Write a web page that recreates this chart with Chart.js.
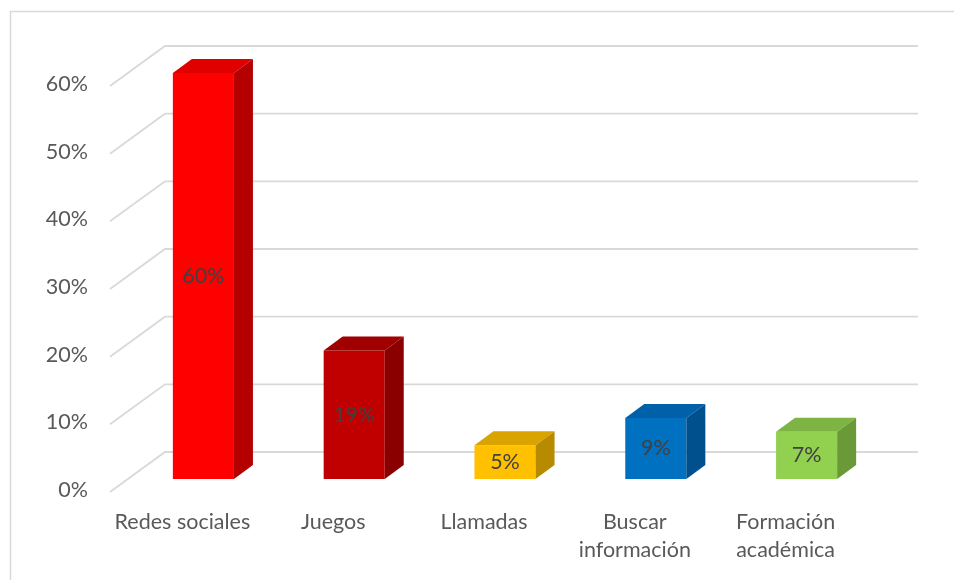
<!DOCTYPE html>
<html>
<head>
<meta charset="utf-8">
<script src="https://cdn.jsdelivr.net/npm/chart.js@4"></script>
<style>
  html, body { margin: 0; padding: 0; background: #fff; }
  #uso-chart { display: block; }
</style>
</head>
<body>
<canvas id="uso-chart" width="954" height="580"></canvas>
<script>
// categorías y porcentajes
var categorias = ['Redes sociales', 'Juegos', 'Llamadas', ['Buscar', 'información'], ['Formación', 'académica']];
var porcentajes = [60, 19, 5, 9, 7];
var ticksEje = [0, 10, 20, 30, 40, 50, 60];

// colores de cara frontal, superior y lateral
var coloresFrente = ['#ff0000', '#c00000', '#ffc000', '#0070c0', '#92d050'];
var coloresArriba = ['#e00000', '#a00000', '#d9a300', '#0060a8', '#7db443'];
var coloresLado = ['#b50000', '#8a0000', '#b88a00', '#00508e', '#6a9a38'];

var FUENTE = 'Lato, "Open Sans", sans-serif';
var TAM = 21.5;
var PROF_X = 19, PROF_Y = -14;

// fondo + marco
var marco = {
  id: 'marco',
  beforeDraw: function (chart) {
    var ctx = chart.ctx;
    ctx.save();
    ctx.fillStyle = '#fff';
    ctx.fillRect(0, 0, chart.width, chart.height);
    ctx.strokeStyle = '#d9d9d9';
    ctx.lineWidth = 1.5;
    ctx.strokeRect(10.5, 11.5, chart.width + 20, chart.height + 20);
    ctx.restore();
  }
};

// pared del fondo y lineas inclinadas de la izquierda
var rejilla3d = {
  id: 'rejilla3d',
  beforeDatasetsDraw: function (chart) {
    var ctx = chart.ctx, y = chart.scales.y, area = chart.chartArea;
    var xFrente = area.left - 18, xFondo = area.left + 37, xFin = area.right + 36;
    ctx.save();
    ctx.strokeStyle = '#d9d9d9';
    ctx.lineWidth = 1.8;
    ticksEje.forEach(function (v) {
      var py = y.getPixelForValue(v);
      ctx.beginPath();
      ctx.moveTo(xFrente, py + 13);
      ctx.lineTo(xFondo, py - 27);
      ctx.lineTo(xFin, py - 27);
      ctx.stroke();
    });
    ctx.restore();
  }
};

// caras superior y lateral de cada barra, y su etiqueta
var barras3d = {
  id: 'barras3d',
  afterDatasetsDraw: function (chart) {
    var ctx = chart.ctx;
    var meta = chart.getDatasetMeta(0);
    ctx.save();
    meta.data.forEach(function (bar, i) {
      var p = bar.getProps(['x', 'y', 'base', 'width'], true);
      var l = p.x - p.width / 2, r = p.x + p.width / 2;
      ctx.fillStyle = coloresArriba[i];
      ctx.beginPath();
      ctx.moveTo(l, p.y);
      ctx.lineTo(l + PROF_X, p.y + PROF_Y);
      ctx.lineTo(r + PROF_X, p.y + PROF_Y);
      ctx.lineTo(r, p.y);
      ctx.closePath();
      ctx.fill();
      ctx.fillStyle = coloresLado[i];
      ctx.beginPath();
      ctx.moveTo(r, p.y);
      ctx.lineTo(r + PROF_X, p.y + PROF_Y);
      ctx.lineTo(r + PROF_X, p.base + PROF_Y);
      ctx.lineTo(r, p.base);
      ctx.closePath();
      ctx.fill();

      ctx.fillStyle = '#404040';
      ctx.font = TAM + 'px ' + FUENTE;
      ctx.textAlign = 'center';
      ctx.textBaseline = 'middle';
      ctx.fillText(porcentajes[i] + '%', p.x, (p.y + p.base) / 2);
    });
    ctx.restore();
  }
};

new Chart(document.getElementById('uso-chart'), {
  type: 'bar',
  data: {
    labels: categorias,
    datasets: [{
      data: porcentajes,
      backgroundColor: coloresFrente,
      borderWidth: 0,
      barPercentage: 1,
      categoryPercentage: 0.405
    }]
  },
  options: {
    responsive: false,
    devicePixelRatio: 1,
    animation: false,
    layout: { padding: { left: 10, top: 73, right: 72, bottom: 0 } },
    plugins: { legend: { display: false }, tooltip: { enabled: false } },
    scales: {
      x: {
        grid: { display: false, drawTicks: false },
        border: { display: false },
        afterFit: function (s) { s.height = 101; },
        ticks: {
          color: '#595959',
          font: { family: FUENTE, size: TAM, lineHeight: 1.26 },
          padding: 30,
          labelOffset: -21,
          maxRotation: 0,
          autoSkip: false
        }
      },
      y: {
        min: 0,
        max: 60,
        grid: { display: false, drawTicks: false },
        border: { display: false },
        afterFit: function (s) { s.width = 118; },
        ticks: {
          stepSize: 10,
          color: '#595959',
          font: { family: FUENTE, size: TAM },
          padding: 40,
          labelOffset: 11,
          callback: function (v) { return v + '%'; }
        }
      }
    }
  },
  plugins: [marco, rejilla3d, barras3d]
});
</script>
</body>
</html>
